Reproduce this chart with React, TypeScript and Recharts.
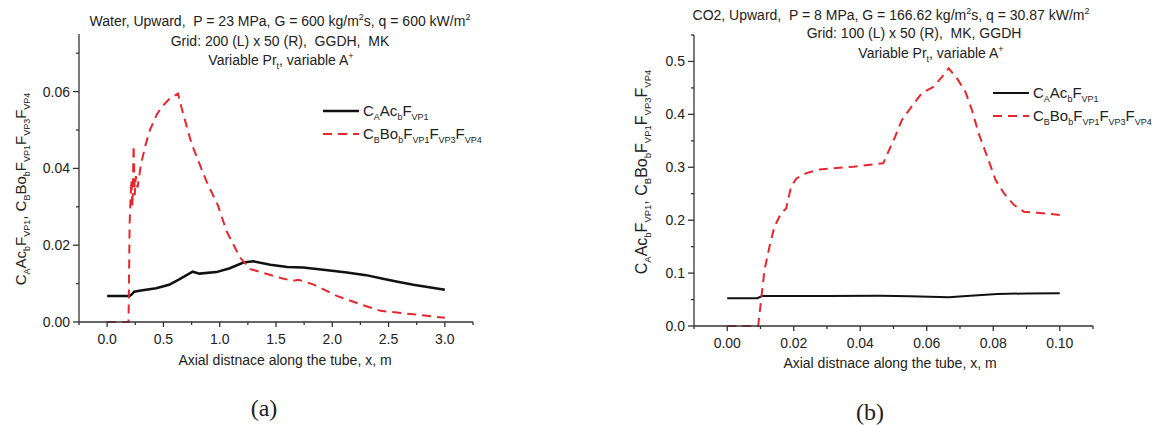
import React from 'react';
import { LineChart, Line, XAxis, YAxis } from 'recharts';

// (a) water, 23 MPa
const waterAccX = [0, 0.2, 0.22, 0.24, 0.3, 0.435, 0.55, 0.64, 0.76, 0.82, 0.97, 1.09, 1.21, 1.3, 1.45, 1.6, 1.74, 1.92, 2.13, 2.3, 2.46, 2.58, 2.72, 3.0];
const waterAccY = [0.0068, 0.0068, 0.0072, 0.0079, 0.0082, 0.0088, 0.0097, 0.0111, 0.0131, 0.0126, 0.013, 0.014, 0.0155, 0.0158, 0.0149, 0.0143, 0.0142, 0.0136, 0.0129, 0.0122, 0.0112, 0.0105, 0.0097, 0.0084];
const waterBuoyX = [0, 0.19, 0.2, 0.215, 0.225, 0.235, 0.245, 0.255, 0.27, 0.3, 0.34, 0.38, 0.44, 0.49, 0.55, 0.63, 0.66, 0.75, 0.88, 0.985, 1.06, 1.18, 1.27, 1.42, 1.55, 1.65, 1.7, 1.83, 2.04, 2.25, 2.43, 2.72, 3.0];
const waterBuoyY = [0, 0, 0.026, 0.037, 0.03, 0.046, 0.033, 0.038, 0.035, 0.041, 0.046, 0.05, 0.054, 0.0562, 0.058, 0.0595, 0.0559, 0.0464, 0.0368, 0.0303, 0.0237, 0.0168, 0.0138, 0.0125, 0.0114, 0.0107, 0.011, 0.0098, 0.0068, 0.0046, 0.0029, 0.002, 0.0011];

// (b) CO2, 8 MPa
const co2AccX = [0, 0.009, 0.0105, 0.02, 0.03, 0.046, 0.055, 0.0666, 0.072, 0.0812, 0.09, 0.1];
const co2AccY = [0.0524, 0.0524, 0.0567, 0.0567, 0.0567, 0.057, 0.0562, 0.0542, 0.0567, 0.0605, 0.0615, 0.0618];
const co2BuoyX = [0, 0.0093, 0.0112, 0.0127, 0.0142, 0.0162, 0.0177, 0.0192, 0.0208, 0.0238, 0.0278, 0.0379, 0.0469, 0.048, 0.0505, 0.0525, 0.055, 0.0585, 0.062, 0.0646, 0.0666, 0.0691, 0.0716, 0.0736, 0.0756, 0.0782, 0.0807, 0.0832, 0.0862, 0.0892, 0.0933, 0.1];
const co2BuoyY = [0, 0, 0.106, 0.15, 0.188, 0.213, 0.222, 0.263, 0.279, 0.289, 0.296, 0.301, 0.3075, 0.323, 0.358, 0.389, 0.411, 0.44, 0.452, 0.471, 0.487, 0.468, 0.443, 0.408, 0.364, 0.32, 0.276, 0.251, 0.229, 0.216, 0.214, 0.21];

// tick values (major get labels, minor are short marks only)
const waterXMajor = [0, 0.5, 1, 1.5, 2, 2.5, 3];
const waterXMinor = [-0.25, 0.25, 0.75, 1.25, 1.75, 2.25, 2.75, 3.25];
const waterYMajor = [0, 0.02, 0.04, 0.06];
const waterYMinor = [0.01, 0.03, 0.05, 0.07];
const co2XMajor = [0, 0.02, 0.04, 0.06, 0.08, 0.1];
const co2XMinor = [-0.01, 0.01, 0.03, 0.05, 0.07, 0.09, 0.11];
const co2YMajor = [0, 0.1, 0.2, 0.3, 0.4, 0.5];
const co2YMinor = [0.05, 0.15, 0.25, 0.35, 0.45, 0.55];

const FONT = '"Liberation Sans", Arial, sans-serif';
const AXIS = '#333';
const TEXT = '#222';
const BLACK = '#111';
const RED = '#e8262d';
const NB = '\u00a0';

const zip = (xs: number[], ys: number[]) => xs.map((x, i) => ({ x, y: ys[i] }));

const isMajor = (v: number, majors: number[]) => majors.some((m) => Math.abs(m - v) < 1e-9);

function XTick(props: any) {
  const { x, y, payload, majors, digits } = props;
  const major = isMajor(payload.value, majors);
  return (
    <g>
      <line x1={x} x2={x} y1={y} y2={y + (major ? 5 : 3)} stroke={AXIS} strokeWidth={1.3} />
      {major && (
        <text x={x} y={y + 22} textAnchor="middle" fontSize={14} fill={TEXT} fontFamily={FONT}>
          {payload.value.toFixed(digits)}
        </text>
      )}
    </g>
  );
}

function YTick(props: any) {
  const { x, y, payload, majors, digits } = props;
  const major = isMajor(payload.value, majors);
  return (
    <g>
      <line x1={x} x2={x - (major ? 6 : 3)} y1={y} y2={y} stroke={AXIS} strokeWidth={1.3} />
      {major && (
        <text x={x - 9} y={y + 5} textAnchor="end" fontSize={14} fill={TEXT} fontFamily={FONT}>
          {payload.value.toFixed(digits)}
        </text>
      )}
    </g>
  );
}

// rich text: n = normal, b = subscript, p = superscript
type Seg = [string, 'n' | 'b' | 'p'];
const shift = { n: 0, b: 4, p: -6 };

function Rich({ segs, size, small }: { segs: Seg[]; size: number; small: number }) {
  let prev: 'n' | 'b' | 'p' = 'n';
  return (
    <>
      {segs.map(([t, k], i) => {
        const dy = shift[k] - shift[prev];
        prev = k;
        return (
          <tspan key={i} dy={dy} fontSize={k === 'n' ? size : small}>
            {t}
          </tspan>
        );
      })}
    </>
  );
}

const accSegs: Seg[] = [['C', 'n'], ['A', 'b'], ['Ac', 'n'], ['b', 'b'], ['F', 'n'], ['VP1', 'b']];
const buoySegs: Seg[] = [['C', 'n'], ['B', 'b'], ['Bo', 'n'], ['b', 'b'], ['F', 'n'], ['VP1', 'b'], ['F', 'n'], ['VP3', 'b'], ['F', 'n'], ['VP4', 'b']];
const yLabelSegs: Seg[] = [...accSegs, [', ', 'n'], ...buoySegs];
const prSegs: Seg[] = [['Variable Pr', 'n'], ['t', 'b'], [', variable A', 'n'], ['+', 'p']];

function Panel(props: {
  left: number;
  width: number;
  margin: { top: number; right: number; bottom: number; left: number };
  acc: { x: number; y: number }[];
  buoy: { x: number; y: number }[];
  xDomain: [number, number];
  yDomain: [number, number];
  xMajor: number[];
  xMinor: number[];
  yMajor: number[];
  yMinor: number[];
  xDigits: number;
  yDigits: number;
  accWidth: number;
}) {
  const xTicks = [...props.xMajor, ...props.xMinor].sort((a, b) => a - b);
  const yTicks = [...props.yMajor, ...props.yMinor].sort((a, b) => a - b);
  return (
    <div style={{ position: 'absolute', left: props.left, top: 0 }}>
      <LineChart width={props.width} height={425} margin={props.margin}>
        <XAxis
          type="number"
          dataKey="x"
          domain={props.xDomain}
          ticks={xTicks}
          interval={0}
          height={1}
          tickSize={0}
          tickMargin={0}
          tickLine={false}
          axisLine={{ stroke: AXIS, strokeWidth: 1.3 }}
          tick={(p: any) => <XTick {...p} majors={props.xMajor} digits={props.xDigits} />}
        />
        <YAxis
          type="number"
          domain={props.yDomain}
          ticks={yTicks}
          interval={0}
          width={1}
          tickSize={0}
          tickMargin={0}
          tickLine={false}
          axisLine={{ stroke: AXIS, strokeWidth: 1.3 }}
          tick={(p: any) => <YTick {...p} majors={props.yMajor} digits={props.yDigits} />}
        />
        <Line
          data={props.acc}
          dataKey="y"
          type="linear"
          stroke={BLACK}
          strokeWidth={props.accWidth}
          dot={false}
          isAnimationActive={false}
        />
        <Line
          data={props.buoy}
          dataKey="y"
          type="linear"
          stroke={RED}
          strokeWidth={2}
          strokeDasharray="9 6"
          dot={false}
          isAnimationActive={false}
        />
      </LineChart>
    </div>
  );
}

function LegendRows({ x, y, accWidth }: { x: number; y: number; accWidth: number }) {
  return (
    <g>
      <line x1={x} x2={x + 36} y1={y} y2={y} stroke={BLACK} strokeWidth={accWidth} />
      <text x={x + 40} y={y + 5} fill={TEXT} fontFamily={FONT}>
        <Rich segs={accSegs} size={15} small={9} />
      </text>
      <line x1={x} x2={x + 36} y1={y + 23} y2={y + 23} stroke={RED} strokeWidth={2} strokeDasharray="9 6" />
      <text x={x + 40} y={y + 28} fill={TEXT} fontFamily={FONT}>
        <Rich segs={buoySegs} size={15} small={9} />
      </text>
    </g>
  );
}

const serif = '"Liberation Serif", "Times New Roman", serif';

export default function App() {
  return (
    <div style={{ position: 'absolute', left: 0, top: 0, width: 1162, height: 425, background: '#fff' }}>
      <Panel
        left={0}
        width={580}
        margin={{ top: 34, right: 107, bottom: 102, left: 78 }}
        acc={zip(waterAccX, waterAccY)}
        buoy={zip(waterBuoyX, waterBuoyY)}
        xDomain={[-0.25, 3.25]}
        yDomain={[0, 0.075]}
        xMajor={waterXMajor}
        xMinor={waterXMinor}
        yMajor={waterYMajor}
        yMinor={waterYMinor}
        xDigits={1}
        yDigits={2}
        accWidth={2.5}
      />
      <Panel
        left={580}
        width={582}
        margin={{ top: 35, right: 69, bottom: 98, left: 113 }}
        acc={zip(co2AccX, co2AccY)}
        buoy={zip(co2BuoyX, co2BuoyY)}
        xDomain={[-0.01, 0.11]}
        yDomain={[0, 0.55]}
        xMajor={co2XMajor}
        xMinor={co2XMinor}
        yMajor={co2YMajor}
        yMinor={co2YMinor}
        xDigits={2}
        yDigits={1}
        accWidth={2}
      />
      <svg
        width={1162}
        height={425}
        style={{ position: 'absolute', left: 0, top: 0, pointerEvents: 'none' }}
        fontFamily={FONT}
      >
        {/* titles (a) */}
        <text x={280} y={26} textAnchor="middle" fontSize={14} fill={TEXT}>
          <Rich
            segs={[[`Water, Upward, ${NB}P = 23 MPa, G = 600 kg/m`, 'n'], ['2', 'p'], ['s, q = 600 kW/m', 'n'], ['2', 'p']]}
            size={14}
            small={9}
          />
        </text>
        <text x={280} y={46} textAnchor="middle" fontSize={14} fill={TEXT}>
          {`Grid: 200 (L) x 50 (R), ${NB}GGDH, ${NB}MK`}
        </text>
        <text x={281} y={65} textAnchor="middle" fontSize={14} fill={TEXT}>
          <Rich segs={prSegs} size={14} small={9} />
        </text>

        {/* titles (b) */}
        <text x={891} y={20} textAnchor="middle" fontSize={14} fill={TEXT}>
          <Rich
            segs={[[`CO2, Upward, ${NB}P = 8 MPa, G = 166.62 kg/m`, 'n'], ['2', 'p'], ['s, q = 30.87 kW/m', 'n'], ['2', 'p']]}
            size={14}
            small={9}
          />
        </text>
        <text x={914} y={38} textAnchor="middle" fontSize={14} fill={TEXT}>
          {`Grid: 100 (L) x 50 (R), ${NB}MK, GGDH`}
        </text>
        <text x={931} y={58} textAnchor="middle" fontSize={14} fill={TEXT}>
          <Rich segs={prSegs} size={14} small={9} />
        </text>

        {/* y-axis titles */}
        <text transform="translate(26,189) rotate(-90)" textAnchor="middle" fill={TEXT}>
          <Rich segs={yLabelSegs} size={15} small={9} />
        </text>
        <text transform="translate(647,172) rotate(-90)" textAnchor="middle" fill={TEXT}>
          <Rich segs={yLabelSegs} size={16} small={9.5} />
        </text>

        {/* x-axis titles */}
        <text x={285} y={365} textAnchor="middle" fontSize={14} fill={TEXT}>
          Axial distnace along the tube, x, m
        </text>
        <text x={890} y={368} textAnchor="middle" fontSize={14} fill={TEXT}>
          Axial distnace along the tube, x, m
        </text>

        {/* legends */}
        <LegendRows x={323} y={111} accWidth={2.5} />
        <LegendRows x={993} y={93} accWidth={2} />

        {/* panel captions */}
        <text x={264} y={416} textAnchor="middle" fontSize={24} fill={TEXT} fontFamily={serif}>
          (a)
        </text>
        <text x={870} y={420} textAnchor="middle" fontSize={24} fill={TEXT} fontFamily={serif}>
          (b)
        </text>
      </svg>
    </div>
  );
}
